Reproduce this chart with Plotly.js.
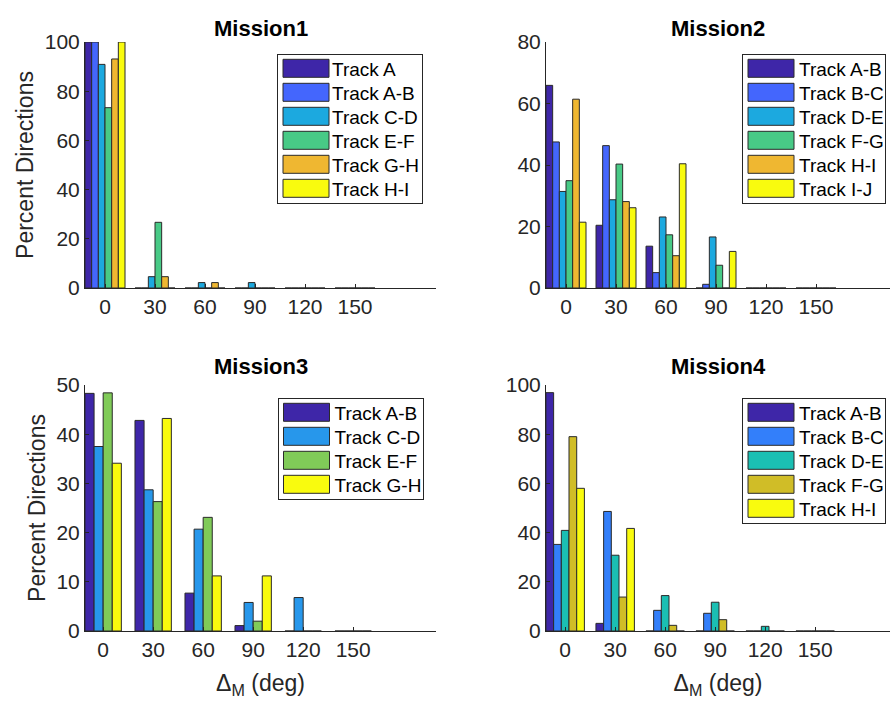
<!DOCTYPE html>
<html><head><meta charset="utf-8">
<script src="https://cdn.plot.ly/plotly-3.0.1.min.js"></script>
<style>html,body{margin:0;padding:0;background:#fff}</style>
</head><body><div id="chart" style="width:891px;height:702px"></div>
<script>
// ---------- data ----------
const angles = [0, 30, 60, 90, 120, 150];
const tickLabels = ['0', '30', '60', '90', '120', '150'];

const m1Names = ['Track A', 'Track A-B', 'Track C-D', 'Track E-F', 'Track G-H', 'Track H-I'];
const m1TrackA   = [100, 0, 0, 0, 0, 0];
const m1TrackAB  = [100, 0, 0, 0, 0, 0];
const m1TrackCD  = [90.9, 4.6, 2.2, 2.2, 0, 0];
const m1TrackEF  = [73.3, 26.7, 0, 0, 0, 0];
const m1TrackGH  = [93.1, 4.6, 2.2, 0, 0, 0];
const m1TrackHI  = [100, 0, 0, 0, 0, 0];

const m2Names = ['Track A-B', 'Track B-C', 'Track D-E', 'Track F-G', 'Track H-I', 'Track I-J'];
const m2TrackAB = [65.9, 20.4, 13.6, 0, 0, 0];
const m2TrackBC = [47.5, 46.3, 5.0, 1.2, 0, 0];
const m2TrackDE = [31.4, 28.7, 23.1, 16.6, 0, 0];
const m2TrackFG = [34.9, 40.3, 17.3, 7.4, 0, 0];
const m2TrackHI = [61.4, 28.1, 10.5, 0, 0, 0];
const m2TrackIJ = [21.4, 26.1, 40.4, 11.9, 0, 0];

const m3Names = ['Track A-B', 'Track C-D', 'Track E-F', 'Track G-H'];
const m3TrackAB = [48.3, 42.8, 7.7, 1.1, 0, 0];
const m3TrackCD = [37.5, 28.7, 20.7, 5.8, 6.8, 0];
const m3TrackEF = [48.4, 26.3, 23.1, 2.0, 0, 0];
const m3TrackGH = [34.1, 43.2, 11.2, 11.2, 0, 0];

const m4Names = ['Track A-B', 'Track B-C', 'Track D-E', 'Track F-G', 'Track H-I'];
const m4TrackAB = [96.9, 3.1, 0, 0, 0, 0];
const m4TrackBC = [35.2, 48.6, 8.4, 7.2, 0, 0];
const m4TrackDE = [40.9, 30.8, 14.4, 11.7, 1.9, 0];
const m4TrackFG = [79.0, 13.8, 2.3, 4.6, 0, 0];
const m4TrackHI = [58.0, 41.7, 0, 0, 0, 0];

const missionTitles = ['Mission1', 'Mission2', 'Mission3', 'Mission4'];

// ---------- styles ----------
const colors6 = ['#3e26a8', '#4466fd', '#1ca9df', '#48ca86', '#efb731', '#f9fb0e'];
const colors4 = ['#3e26a8', '#2797eb', '#80cb58', '#f9fb0e'];
const colors5 = ['#3e26a8', '#337ffa', '#1bbfb3', '#d0bd27', '#f9fb0e'];

const W = 891, H = 702;
const fx = p => p / W;
const fy = p => 1 - p / H;
const FONT = 'Liberation Sans, Arial, Helvetica, sans-serif';
const AX = '#262626';

const missions = [
  {names: m1Names, series: [m1TrackA, m1TrackAB, m1TrackCD, m1TrackEF, m1TrackGH, m1TrackHI], colors: colors6},
  {names: m2Names, series: [m2TrackAB, m2TrackBC, m2TrackDE, m2TrackFG, m2TrackHI, m2TrackIJ], colors: colors6},
  {names: m3Names, series: [m3TrackAB, m3TrackCD, m3TrackEF, m3TrackGH], colors: colors4},
  {names: m4Names, series: [m4TrackAB, m4TrackBC, m4TrackDE, m4TrackFG, m4TrackHI], colors: colors5}
];

const spacing = 30;
const traces = [];
missions.forEach((m, k) => {
  const n = m.series.length;
  const gw = spacing * Math.min(0.8, n / (n + 1.5));
  const bw = gw / n;
  const sfx = k === 0 ? '' : String(k + 1);
  m.series.forEach((vals, i) => {
    traces.push({
      type: 'bar', x: angles, y: vals, name: m.names[i],
      xaxis: 'x' + sfx, yaxis: 'y' + sfx, legend: 'legend' + sfx,
      width: bw, offset: -gw / 2 + i * bw,
      marker: {color: m.colors[i], line: {color: '#2a2a2a', width: 1}},
      hoverinfo: 'skip'
    });
  });
});

const xDomL = [fx(85), fx(436)], xDomR = [fx(546), fx(890)];
const yDomT = [fy(288), fy(42)], yDomB = [fy(631), fy(385)];
const tickFont = {family: FONT, size: 21, color: AX};

function xa(domain, range, anchor, withTitle) {
  const a = {domain, range, anchor, tickvals: angles, ticktext: tickLabels,
    ticks: 'inside', ticklen: 4, tickcolor: AX, showline: true, linecolor: AX, linewidth: 1,
    showgrid: false, zeroline: false, tickfont: tickFont, fixedrange: true};
  if (withTitle) a.title = {text: 'Δ<sub>M</sub> (deg)', font: {family: FONT, size: 23, color: AX}, standoff: 14};
  return a;
}
function ya(domain, range, dtick, anchor, withTitle) {
  const a = {domain, range, anchor, dtick, tick0: 0,
    ticks: 'inside', ticklen: 4, tickcolor: AX, showline: true, linecolor: AX, linewidth: 1,
    showgrid: false, zeroline: false, tickfont: tickFont, fixedrange: true};
  if (withTitle) a.title = {text: 'Percent Directions', font: {family: FONT, size: 23, color: AX}, standoff: 4};
  return a;
}

function leg(x, y) {
  return {x, y, xanchor: 'left', yanchor: 'top', bgcolor: '#ffffff', bordercolor: AX, borderwidth: 1,
    font: {family: FONT, size: 19, color: '#000'}, itemwidth: 46, tracegroupgap: 0, itemclick: false, itemdoubleclick: false};
}

const titlePos = [[(85 + 436) / 2, 28], [(546 + 890) / 2, 28], [(85 + 436) / 2, 366], [(546 + 890) / 2, 366]];

const layout = {
  width: W, height: H, margin: {l: 0, r: 0, t: 0, b: 0},
  paper_bgcolor: '#fff', plot_bgcolor: '#fff',
  barmode: 'overlay', showlegend: true,
  font: {family: FONT, color: AX},
  xaxis: xa(xDomL, [-12, 198.6], 'y', false),
  yaxis: ya(yDomT, [0, 100], 20, 'x', true),
  xaxis2: xa(xDomR, [-12, 194.4], 'y2', false),
  yaxis2: ya(yDomT, [0, 80], 20, 'x2', false),
  xaxis3: xa(xDomL, [-10.9, 199.7], 'y3', true),
  yaxis3: ya(yDomB, [0, 50], 10, 'x3', true),
  xaxis4: xa(xDomR, [-11.5, 194.9], 'y4', true),
  yaxis4: ya(yDomB, [0, 100], 20, 'x4', false),
  legend: leg(fx(277), fy(54)),
  legend2: leg(fx(742), fy(54)),
  legend3: leg(fx(277.5), fy(398)),
  legend4: leg(fx(742), fy(398)),
  annotations: missionTitles.map((t, k) => ({
    text: '<b>' + t + '</b>', xref: 'paper', yref: 'paper',
    x: fx(titlePos[k][0]), y: fy(titlePos[k][1]), xanchor: 'center', yanchor: 'middle',
    showarrow: false, font: {family: FONT, size: 22, color: '#000'}
  }))
};

// legend look tweaks (MATLAB-style wide swatches, tighter rows)
const ROW = 24, FIRST = 14.3, TAIL = 15, TEXT_SHIFT = 2, BOX_SHRINK = 4;
function tweakLegends(gd) {
  gd.querySelectorAll('.legendpoints path').forEach(p => {
    p.setAttribute('d', 'M23,9H-23V-9H23Z');
  });
  ['legend', 'legend2', 'legend3', 'legend4'].forEach(id => {
    const lg = gd.querySelector('g.infolayer > g.' + id);
    if (!lg) return;
    const items = lg.querySelectorAll('g.traces');
    items.forEach((it, i) => {
      const m = /translate\(([-\d.e]+)[ ,]+([-\d.e]+)\)/.exec(it.getAttribute('transform') || '');
      const x = m ? parseFloat(m[1]) : 0;
      it.setAttribute('transform', 'translate(' + x + ',' + (FIRST + i * ROW) + ')');
      const t = it.querySelector('text.legendtext');
      if (t) t.setAttribute('x', parseFloat(t.getAttribute('x') || 0) - TEXT_SHIFT);
    });
    const h = FIRST + (items.length - 1) * ROW + TAIL;
    const bg = lg.querySelector('rect.bg');
    if (bg) {
      bg.setAttribute('height', h);
      bg.setAttribute('width', parseFloat(bg.getAttribute('width')) - BOX_SHRINK);
    }
    lg.querySelectorAll('clipPath rect').forEach(r => r.setAttribute('height', h));
  });
  // drop empty placeholder text nodes (axes without titles)
  gd.querySelectorAll('text').forEach(t => {
    if (!t.textContent.trim()) t.remove();
  });
}

Plotly.newPlot('chart', traces, layout, {displayModeBar: false}).then(gd => {
  tweakLegends(gd);
});
</script>
</body></html>
